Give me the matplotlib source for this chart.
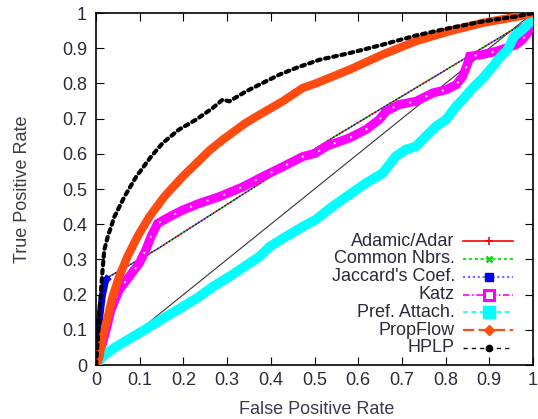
import matplotlib
matplotlib.use("Agg")
import matplotlib.pyplot as plt

plt.rcParams['font.family'] = ['Liberation Sans', 'DejaVu Sans']

# ---------------- data ----------------
xticks = [0, 0.1, 0.2, 0.3, 0.4, 0.5, 0.6, 0.7, 0.8, 0.9, 1]
xtick_labels = ['0', '0.1', '0.2', '0.3', '0.4', '0.5', '0.6', '0.7', '0.8', '0.9', '1']
yticks = [0, 0.1, 0.2, 0.3, 0.4, 0.5, 0.6, 0.7, 0.8, 0.9, 1]
ytick_labels = ['0', '0.1', '0.2', '0.3', '0.4', '0.5', '0.6', '0.7', '0.8', '0.9', '1']

labels = ['Adamic/Adar', 'Common Nbrs.', "Jaccard's Coef.", 'Katz',
          'Pref. Attach.', 'PropFlow', 'HPLP']

# Adamic/Adar, Common Nbrs. and Jaccard's Coef. coincide
neigh_x = [0, 0.003, 0.006, 0.01, 0.015, 0.022, 0.03, 0.137, 0.412, 0.541, 0.992, 1.0]
neigh_y = [0, 0.05, 0.10, 0.15, 0.20, 0.24, 0.251, 0.327, 0.545, 0.645, 0.981, 1.0]
neigh_dense_n = 7  # first points carry dense markers

katz_x = [0, 0.005, 0.012, 0.023, 0.034, 0.053, 0.076, 0.099, 0.114, 0.126, 0.141,
          0.168, 0.198, 0.236, 0.282, 0.336, 0.381, 0.427, 0.473, 0.503, 0.526,
          0.58, 0.618, 0.648, 0.664, 0.694, 0.732, 0.771, 0.801, 0.824, 0.839,
          0.851, 0.855, 0.885, 0.915, 0.938, 0.961, 0.976, 0.988, 0.995, 1.0]
katz_y = [0, 0.02, 0.05, 0.099, 0.156, 0.213, 0.251, 0.289, 0.327, 0.365, 0.402,
          0.421, 0.44, 0.459, 0.478, 0.506, 0.535, 0.563, 0.592, 0.602, 0.621,
          0.645, 0.669, 0.697, 0.721, 0.74, 0.749, 0.773, 0.782, 0.796, 0.82,
          0.858, 0.877, 0.882, 0.891, 0.9, 0.91, 0.924, 0.943, 0.972, 1.0]

pref_x = [0, 0.015, 0.046, 0.084, 0.122, 0.16, 0.198, 0.236, 0.267, 0.305, 0.339,
          0.374, 0.397, 0.435, 0.473, 0.503, 0.542, 0.58, 0.618, 0.656, 0.686,
          0.709, 0.732, 0.755, 0.778, 0.801, 0.824, 0.839, 0.862, 0.885, 0.908,
          0.923, 0.942, 0.957, 0.976, 0.995, 1.0]
pref_y = [0, 0.024, 0.052, 0.08, 0.108, 0.137, 0.165, 0.194, 0.222, 0.251, 0.279,
          0.308, 0.336, 0.365, 0.393, 0.413, 0.451, 0.484, 0.517, 0.545, 0.593,
          0.612, 0.621, 0.65, 0.678, 0.697, 0.735, 0.754, 0.787, 0.815, 0.848,
          0.872, 0.896, 0.934, 0.953, 0.976, 1.0]

prop_x = [0, 0.004, 0.008, 0.015, 0.027, 0.038, 0.053, 0.072, 0.095, 0.122, 0.156,
          0.198, 0.26, 0.29, 0.343, 0.381, 0.427, 0.473, 0.503, 0.58, 0.656,
          0.732, 0.808, 0.885, 0.961, 1.0]
prop_y = [0, 0.01, 0.024, 0.08, 0.137, 0.194, 0.251, 0.308, 0.365, 0.421, 0.478,
          0.535, 0.61, 0.64, 0.688, 0.716, 0.749, 0.787, 0.8, 0.839, 0.882,
          0.92, 0.948, 0.972, 0.989, 1.0]

hplp_x = [0, 0.004, 0.008, 0.012, 0.015, 0.019, 0.027, 0.042, 0.065, 0.092, 0.126,
          0.153, 0.19, 0.229, 0.267, 0.29, 0.305, 0.343, 0.381, 0.42, 0.458,
          0.511, 0.58, 0.656, 0.732, 0.808, 0.885, 0.961, 1.0]
hplp_y = [0, 0.07, 0.15, 0.22, 0.27, 0.327, 0.365, 0.421, 0.478, 0.535, 0.592,
          0.631, 0.669, 0.697, 0.73, 0.754, 0.749, 0.777, 0.801, 0.825, 0.844,
          0.867, 0.886, 0.91, 0.936, 0.957, 0.976, 0.99, 1.0]

diag = [0, 1]

# ---------------- styling ----------------
TXT = '#2a2a3a'
C_ADAMIC = '#ff0000'
C_COMMON = '#00dd00'
C_JACC = '#0000ee'
C_KATZ = '#ff00ff'
C_PREF = '#00ffff'
C_PROP = '#ff4a10'
C_HPLP = '#000000'

fig = plt.figure(figsize=(5.38, 4.19), dpi=100)
ax = fig.add_axes([96/538, 1 - 365/419, 437/538, 352/419])

# random-guess diagonal
ax.plot(diag, diag, color='#333333', lw=0.8, zorder=1)

# neighbourhood measures
ax.plot(neigh_x, neigh_y, color=C_ADAMIC, lw=1.0, zorder=2)
ax.plot(neigh_x, neigh_y, color=C_COMMON, lw=1.0, ls=(0, (2, 1.5)), zorder=2.1)
ax.plot(neigh_x, neigh_y, color=C_JACC, lw=1.0, ls=(0, (1, 1.5)), zorder=2.2)
ax.plot(neigh_x[:neigh_dense_n], neigh_y[:neigh_dense_n], color=C_JACC, lw=5,
        solid_capstyle='butt', zorder=2.3)

# Katz (dense open squares -> thick band with white centres)
ax.plot(katz_x, katz_y, color=C_KATZ, lw=6.5, solid_joinstyle='miter', zorder=3)
ax.plot(katz_x, katz_y, color='white', lw=1.4, ls=(0, (1, 8)), zorder=3.1)

# Pref. Attach. (dense filled squares)
ax.plot(pref_x, pref_y, color=C_PREF, lw=7, solid_joinstyle='miter', zorder=4)

# PropFlow
ax.plot(prop_x, prop_y, color=C_PROP, lw=6, zorder=5)

# HPLP (chain of small dots)
ax.plot(hplp_x, hplp_y, color=C_HPLP, lw=3.0, ls=(0, (0.9, 1.1)),
        dash_capstyle='round', zorder=6)

ax.set_xlim(0, 1)
ax.set_ylim(0, 1)
ax.set_xticks(xticks)
ax.set_xticklabels(xtick_labels)
ax.set_yticks(yticks)
ax.set_yticklabels(ytick_labels)
ax.tick_params(direction='in', length=5.8, width=0.8, top=True, right=True,
               labelsize=13, labelcolor=TXT, color='black')
ax.tick_params(axis='y', pad=6.5)
ax.tick_params(axis='x', pad=5)
for s in ax.spines.values():
    s.set_linewidth(1.2)

ax.set_xlabel('False Positive Rate', fontsize=13, color='#3a3a4a')
ax.set_ylabel('True Positive Rate', fontsize=13, color='#3a3a4a')
ax.xaxis.set_label_coords(0.505, -0.102)
ax.yaxis.set_label_coords(-0.148, 0.5)

# ---------------- key (gnuplot style: text right-aligned, sample after) -------
styles = [
    dict(color=C_ADAMIC, ls='-', lw=1.2, marker='+', ms=6, mew=1.2),
    dict(color=C_COMMON, ls=(0, (2, 1.5)), lw=1.2, marker='x', ms=5, mew=1.8),
    dict(color='#7070ff', ls=(0, (1, 1.2)), lw=1.6, marker='s', ms=6,
         mfc=C_JACC, mec=C_JACC),
    dict(color=C_KATZ, ls=(0, (4, 1.5, 1, 1.5)), lw=1.2, marker='s', ms=7,
         mfc='white', mec=C_KATZ, mew=2.2),
    dict(color=C_PREF, ls=(0, (3, 2)), lw=1.2, marker='s', ms=9,
         mfc=C_PREF, mec=C_PREF),
    dict(color=C_PROP, ls=(0, (5, 2)), lw=1.6, marker='D', ms=5,
         mfc=C_PROP, mec=C_PROP),
    dict(color=C_HPLP, ls=(0, (3, 3)), lw=1.0, marker='o', ms=4.5,
         mfc='black', mec='black'),
]
y0 = 0.352
dy = 0.0506
for i, (lab, st) in enumerate(zip(labels, styles)):
    yy = y0 - i * dy
    ax.text(0.821, yy, lab, transform=ax.transAxes, ha='right', va='center',
            fontsize=13, color=TXT, zorder=10)
    ax.plot([0.840, 0.954], [yy, yy], transform=ax.transAxes, clip_on=False,
            zorder=10, **{k: v for k, v in st.items() if k not in ('marker', 'ms', 'mew', 'mfc', 'mec')})
    mk = {k: v for k, v in st.items() if k in ('marker', 'ms', 'mew', 'mfc', 'mec')}
    ax.plot([0.899], [yy], transform=ax.transAxes, clip_on=False, ls='none',
            color=st['color'], zorder=11, **mk)

fig.savefig('out.png', dpi=100)
